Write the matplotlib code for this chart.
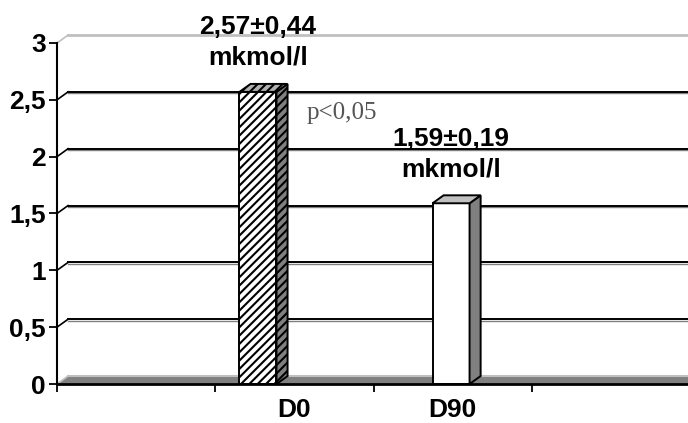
import numpy as np
import matplotlib
matplotlib.use('Agg')
import matplotlib.pyplot as plt
from matplotlib.patches import Polygon

# --- DATA ---
categories = ['D0', 'D90']
values = [2.57, 1.59]
errors = [0.44, 0.19]
unit = 'mkmol/l'
y_ticks = [0, 0.5, 1, 1.5, 2, 2.5, 3]

# --- STYLE ---
DARK = '#808080'; LIGHT = '#c0c0c0'; BLACK = '#000000'
DX, DY = 0.07, 0.07          # fake 3D depth (data units)
N_SLOTS = 4                  # category slots on the x axis
bar_shift = [-0.23, -0.01]   # bar centre offset inside its slot
bar_w = 0.234
FS = 19
plt.rcParams['font.family'] = ['Liberation Sans', 'DejaVu Sans']
plt.rcParams['hatch.linewidth'] = 1.5

fig = plt.figure(figsize=(6.88, 4.23), dpi=100, facecolor='white')
ax = fig.add_axes([57/688, 39/423, 633/688, 341/423])
ax.set_xlim(0, N_SLOTS); ax.set_ylim(0, 3)
for s in ['top', 'right']:
    ax.spines[s].set_visible(False)
ax.spines['left'].set_linewidth(1.5)
ax.spines['bottom'].set_linewidth(2)
ax.spines['left'].set_zorder(6); ax.spines['bottom'].set_zorder(6)

# --- WALLS ---
floor = Polygon([[0, 0], [N_SLOTS + 1, 0], [N_SLOTS + 1, DY], [DX, DY]], closed=True,
                facecolor=DARK, edgecolor='none', zorder=1, clip_on=False)
ax.add_patch(floor)
ax.plot([DX, N_SLOTS + 1], [DY, DY], color=LIGHT, lw=1.5, zorder=2, clip_on=False)
for v in y_ticks[1:]:
    c = LIGHT if v == y_ticks[-1] else BLACK
    if v != y_ticks[-1]:
        ax.plot([DX, N_SLOTS + 1], [v + DY - 0.012] * 2, color=DARK, lw=1.0, zorder=1, clip_on=False)
    ax.plot([DX, N_SLOTS + 1], [v + DY] * 2, color=c, lw=1.4 if c == BLACK else 2.0, zorder=2, clip_on=False)
    ax.plot([0, DX], [v, v + DY], color=c, lw=1.2, zorder=2, clip_on=False)
ax.plot([0, DX], [0, DY], color=LIGHT, lw=1.2, zorder=2, clip_on=False)

# --- BARS ---
xs = [i + 1.5 + bar_shift[i] for i in range(len(categories))]
hatches = ['////', None]
for i, (x, v) in enumerate(zip(xs, values)):
    h = hatches[i]
    ax.bar(x, v, width=bar_w, color='white', edgecolor=BLACK, linewidth=1.4,
           hatch=h, zorder=4)
    l, r = x - bar_w / 2, x + bar_w / 2
    side = Polygon([[r, 0], [r + DX, DY], [r + DX, v + DY], [r, v]], closed=True,
                   facecolor=DARK, edgecolor=BLACK, linewidth=1.4, hatch=h, zorder=4)
    top = Polygon([[l, v], [r, v], [r + DX, v + DY], [l + DX, v + DY]], closed=True,
                  facecolor=LIGHT if h is None else '#b0b0b0', edgecolor=BLACK,
                  linewidth=1.4, hatch=h, zorder=4)
    ax.add_patch(side); ax.add_patch(top)
    lbl = f"{v:.2f}±{errors[i]:.2f}".replace('.', ',') + "\n" + unit
    ax.annotate(lbl, (x, v), xytext=(0, 22), textcoords='offset pixels',
                ha='center', va='bottom', fontsize=FS, fontweight='bold',
                linespacing=1.35, zorder=7, annotation_clip=False)

ax.text(1.80, 2.38, 'p<0,05', family=['Liberation Serif', 'DejaVu Serif'],
        fontsize=18, color='#555555', ha='center', va='center', zorder=7)

# --- TICKS ---
ax.set_yticks(y_ticks)
ax.set_yticklabels([f"{t:g}".replace('.', ',') for t in y_ticks], fontweight='bold')
ax.tick_params(axis='y', direction='out', length=6, width=1.3, pad=2, labelsize=FS)
ax.set_xticks(range(N_SLOTS + 1))
ax.set_xticklabels([])
ax.set_xticks([i + 1.5 for i in range(len(categories))], minor=True)
ax.set_xticklabels(categories, minor=True, fontweight='bold')
ax.tick_params(axis='x', which='major', direction='out', length=6, width=1.3)
ax.tick_params(axis='x', which='minor', length=0, pad=10, labelsize=FS)

plt.savefig('out.png', dpi=100)
